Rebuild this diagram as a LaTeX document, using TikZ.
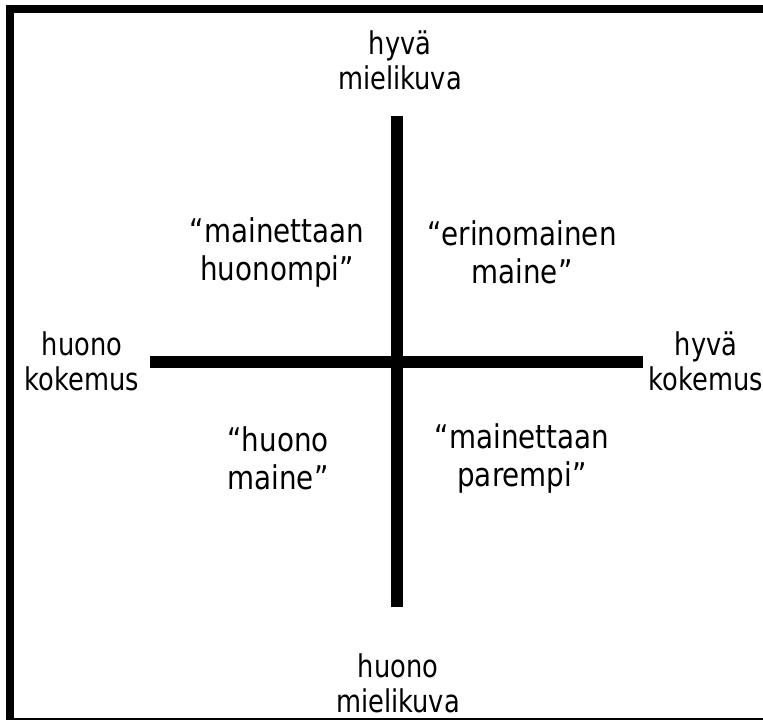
\documentclass[tikz,border=0pt]{standalone}
\usepackage{fontspec}
\usepackage{graphicx}
\setmainfont{DejaVu Sans}
\newcommand\nx[1]{\scalebox{0.82}[1]{#1}}
\newcommand\qx[1]{\scalebox{0.85}[1]{#1}}
\tikzset{
  axislabel/.style={align=center, inner sep=0pt, font=\fontsize{23.5}{26.5}\selectfont},
  quadlabel/.style={align=center, inner sep=0pt, font=\fontsize{24.5}{28.5}\selectfont},
  axisbar/.style={line width=9pt, line cap=butt},
  frame/.style={line width=6pt}
}
\begin{document}
\begin{tikzpicture}[x=0.75pt, y=-0.75pt]
\useasboundingbox (0,0) rectangle (763,720);
\fill[white] (0,0) rectangle (763,720);
\draw[frame] (10,9) rectangle (775,722);
% axes
\coordinate (vt) at (397,116);
\coordinate (vb) at (397,607);
\coordinate (hl) at (150,362);
\coordinate (hr) at (643,362);
\draw[axisbar] (vt) -- (vb);
\draw[axisbar] (hl) -- (hr);
% axis labels
\node[axislabel] (top) at (400,60) {\nx{hyvä}\\\nx{mielikuva}};
\node[axislabel] (bottom) at (398,683) {\nx{huono}\\\nx{mielikuva}};
\node[axislabel] (left) at (82,361) {\nx{huono}\\\nx{kokemus}};
\node[axislabel] (right) at (706,361) {\nx{hyvä}\\\nx{kokemus}};
% quadrant labels
\node[quadlabel] (ul) at (277,252) {\qx{“mainettaan}\\\qx{huonompi”}};
\node[quadlabel] (ur) at (522,252) {\qx{“erinomainen}\\\qx{maine”}};
\node[quadlabel] (ll) at (278,458) {\qx{“huono}\\\qx{maine”}};
\node[quadlabel] (lr) at (522,458) {\qx{“mainettaan}\\\qx{parempi”}};
\end{tikzpicture}
\end{document}
